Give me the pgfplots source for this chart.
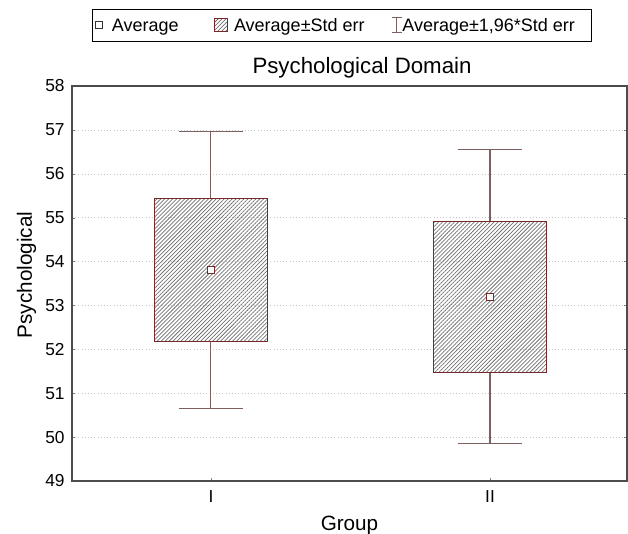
\documentclass[border=0pt]{standalone}
\usepackage{pgfplots}
\pgfplotsset{compat=1.18}
\usepackage{fontspec}
\setmainfont{Liberation Sans}
\usetikzlibrary{patterns,patterns.meta}
\definecolor{boxcol}{RGB}{120,40,40}
\definecolor{whcol}{RGB}{125,95,95}
\definecolor{hatch}{RGB}{112,112,112}
\tikzset{hatchfill/.style={pattern={Lines[angle=45, distance=2.1pt, line width=0.55pt]}, pattern color=hatch}}
\begin{document}
\begin{tikzpicture}
\begin{axis}[
  scale only axis, width=416.25pt, height=296.25pt,
  xmin=0.502, xmax=2.491, ymin=49, ymax=58,
  xtick={1,2}, xticklabels={I,II},
  ytick={49,50,...,58},
  tick align=inside, major tick length=2pt,
  ytick pos=both, xtick pos=bottom,
  ymajorgrids, grid style={dotted, black!22},
  axis line style={black!70, line width=0.9pt},
  xlabel={Group}, ylabel={Psychological},
  title={Psychological Domain},
  /pgf/number format/assume math mode=true,
  ticklabel style={font=\fontsize{13}{15}\selectfont},
  yticklabel style={xshift=-2pt},
  xticklabel style={yshift=-4pt},
  label style={font=\fontsize{15.5}{17}\selectfont},
  xlabel style={yshift=-3pt},
  ylabel style={at={(ticklabel cs:0.5215)}},
  title style={font=\fontsize{16.7}{18}\selectfont, xshift=9.4pt, yshift=-3.5pt},
  legend columns=3,
  legend style={at={(0,1)}, anchor=south west, xshift=15pt, yshift=33pt,
    draw=black, line width=0.9pt,
    font=\fontsize{13.5}{15}\selectfont, inner xsep=1.5pt, inner ysep=6pt,
    nodes={inner sep=0pt},
    /tikz/every even column/.append style={column sep=0pt}},
]
\addlegendimage{legend image code/.code={\draw[black!80, line width=0.6pt, fill=white] (0pt,-2.2pt) rectangle (5.8pt,3.6pt); \path[draw=none] (0pt,0pt) (12.75pt,0pt);}}
\addlegendentry{Average}
\addlegendimage{legend image code/.code={\draw[hatchfill, draw=boxcol, line width=0.5pt] (26.5pt,-4.4pt) rectangle (36.3pt,5.6pt); \path[draw=none] (0pt,0pt) (41.5pt,0pt);}}
\addlegendentry{Average±Std err}
\addlegendimage{legend image code/.code={\draw[whcol, line width=0.7pt] (24.2pt,-5.2pt)--(24.2pt,6pt) (20.5pt,-5.2pt)--(27.9pt,-5.2pt) (20.5pt,6pt)--(27.9pt,6pt); \path[draw=none] (0pt,0pt) (28pt,0pt);}}
\addlegendentry{Average±1,96*Std err\rule{11pt}{0pt}}
% whiskers group I
\addplot[whcol, line width=0.8pt, forget plot] coordinates {(1,55.43) (1,56.97)};
\addplot[whcol, line width=0.8pt, forget plot] coordinates {(0.885,56.97) (1.115,56.97)};
\addplot[whcol, line width=0.8pt, forget plot] coordinates {(1,52.18) (1,50.66)};
\addplot[whcol, line width=0.8pt, forget plot] coordinates {(0.885,50.66) (1.115,50.66)};
% whiskers group II
\addplot[whcol, line width=0.8pt, forget plot] coordinates {(2,54.92) (2,56.56)};
\addplot[whcol, line width=0.8pt, forget plot] coordinates {(1.885,56.56) (2.115,56.56)};
\addplot[whcol, line width=0.8pt, forget plot] coordinates {(2,51.48) (2,49.86)};
\addplot[whcol, line width=0.8pt, forget plot] coordinates {(1.885,49.86) (2.115,49.86)};
% boxes
\addplot[draw=boxcol, line width=0.8pt, hatchfill, forget plot]
  coordinates {(0.7975,52.18) (1.2025,52.18) (1.2025,55.43) (0.7975,55.43)} -- cycle;
\addplot[draw=boxcol, line width=0.8pt, hatchfill, forget plot]
  coordinates {(1.7975,51.48) (2.2025,51.48) (2.2025,54.92) (1.7975,54.92)} -- cycle;
% means
\addplot[only marks, mark=square*, mark size=2.7pt, mark options={fill=white, draw=boxcol, line width=0.7pt}, forget plot]
  coordinates {(1,53.80) (2,53.20)};
\coordinate (ll) at (rel axis cs:0,0);
\coordinate (ur) at (rel axis cs:1,1);
\end{axis}
\pgfresetboundingbox
\path ([shift={(-54pt,-39.75pt)}]ll) rectangle ([shift={(0.75pt,64.5pt)}]ur);
\end{tikzpicture}
\end{document}
